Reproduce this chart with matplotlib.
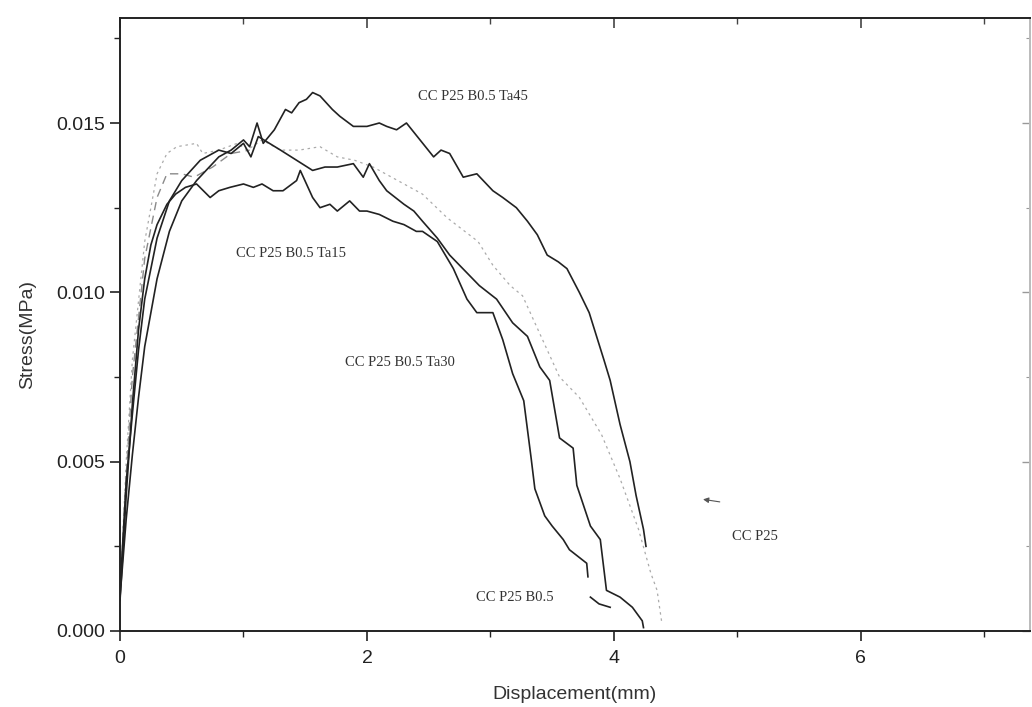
import matplotlib.pyplot as plt
from matplotlib.ticker import MultipleLocator, FormatStrFormatter

ta45_x = [0, 0.05, 0.1, 0.15, 0.2, 0.3, 0.4, 0.5, 0.62, 0.8, 0.9, 1.0, 1.05, 1.11, 1.16,
          1.25, 1.34, 1.39, 1.45, 1.51, 1.56, 1.62, 1.67, 1.72, 1.78, 1.89, 2.0, 2.1,
          2.16, 2.24, 2.32, 2.43, 2.54, 2.6, 2.67, 2.78, 2.89, 3.02, 3.1, 3.21, 3.3,
          3.38, 3.46, 3.55, 3.62, 3.72, 3.8, 3.86, 3.92, 3.97, 4.05, 4.13, 4.18, 4.24, 4.26]
ta45_y = [0.0010, 0.0033, 0.0052, 0.0069, 0.0084, 0.0104, 0.0118, 0.0127, 0.0133, 0.0140,
          0.0142, 0.0145, 0.0143, 0.0150, 0.0144, 0.0148, 0.0154, 0.0153, 0.0156, 0.0157,
          0.0159, 0.0158, 0.0156, 0.0154, 0.0152, 0.0149, 0.0149, 0.0150, 0.0149, 0.0148,
          0.0150, 0.0145, 0.0140, 0.0142, 0.0141, 0.0134, 0.0135, 0.0130, 0.0128, 0.0125,
          0.0121, 0.0117, 0.0111, 0.0109, 0.0107, 0.0100, 0.0094, 0.0087, 0.0080, 0.0074,
          0.0061, 0.0050, 0.0040, 0.0030, 0.0025]

ta30_x = [0, 0.05, 0.1, 0.15, 0.2, 0.3, 0.4, 0.5, 0.65, 0.8, 0.9, 1.0, 1.06, 1.12, 1.21,
          1.3, 1.43, 1.56, 1.66, 1.76, 1.89, 1.97, 2.02, 2.1, 2.16, 2.3, 2.38, 2.45, 2.57,
          2.67, 2.75, 2.83, 2.91, 3.05, 3.18, 3.3, 3.4, 3.48, 3.56, 3.67, 3.7, 3.81, 3.89,
          3.94, 4.05, 4.15, 4.23, 4.24]
ta30_y = [0.0012, 0.0044, 0.0064, 0.0083, 0.0098, 0.0116, 0.0127, 0.0133, 0.0139, 0.0142,
          0.0141, 0.0144, 0.0140, 0.0146, 0.0144, 0.0142, 0.0139, 0.0136, 0.0137, 0.0137,
          0.0138, 0.0134, 0.0138, 0.0133, 0.0130, 0.0126, 0.0124, 0.0121, 0.0116, 0.0111,
          0.0108, 0.0105, 0.0102, 0.0098, 0.0091, 0.0087, 0.0078, 0.0074, 0.0057, 0.0054,
          0.0043, 0.0031, 0.0027, 0.0012, 0.0010, 0.0007, 0.0003, 0.0001]

ta15_x = [0, 0.05, 0.1, 0.15, 0.2, 0.25, 0.3, 0.38, 0.45, 0.53, 0.62, 0.73, 0.8, 0.89,
          1.0, 1.08, 1.15, 1.24, 1.32, 1.43, 1.46, 1.51, 1.56, 1.62, 1.7, 1.76, 1.86,
          1.94, 2.0, 2.1, 2.21, 2.3, 2.4, 2.45, 2.57, 2.7, 2.81, 2.89, 3.02, 3.1, 3.18,
          3.27, 3.33, 3.36, 3.44, 3.5, 3.59, 3.64, 3.78, 3.79]
ta15_y = [0.0009, 0.0040, 0.0067, 0.0089, 0.0104, 0.0114, 0.0120, 0.0126, 0.0129, 0.0131,
          0.0132, 0.0128, 0.0130, 0.0131, 0.0132, 0.0131, 0.0132, 0.0130, 0.0130, 0.0133,
          0.0136, 0.0132, 0.0128, 0.0125, 0.0126, 0.0124, 0.0127, 0.0124, 0.0124, 0.0123,
          0.0121, 0.0120, 0.0118, 0.0118, 0.0115, 0.0107, 0.0098, 0.0094, 0.0094, 0.0086,
          0.0076, 0.0068, 0.0051, 0.0042, 0.0034, 0.0031, 0.0027, 0.0024, 0.0020, 0.0016]

b05_x = [3.81, 3.88, 3.97]
b05_y = [0.0010, 0.0008, 0.0007]

p25_x = [0, 0.05, 0.1, 0.2, 0.3, 0.38, 0.46, 0.62, 0.67, 0.8, 0.95, 1.03, 1.15, 1.3,
         1.45, 1.62, 1.76, 1.9, 2.05, 2.2, 2.35, 2.45, 2.65, 2.9, 3.02, 3.16, 3.26,
         3.56, 3.72, 3.9, 4.05, 4.2, 4.3, 4.35, 4.39]
p25_y = [0.0010, 0.0050, 0.0080, 0.0115, 0.0135, 0.0141, 0.0143, 0.0144, 0.0141, 0.0142,
         0.0144, 0.0142, 0.0145, 0.0142, 0.0142, 0.0143, 0.0140, 0.0139, 0.0137, 0.0134,
         0.0131, 0.0129, 0.0122, 0.0115, 0.0108, 0.0102, 0.0099, 0.0075, 0.0069, 0.0058,
         0.0045, 0.0030, 0.0017, 0.0012, 0.0002]

dash_x = [0, 0.05, 0.1, 0.2, 0.3, 0.38, 0.5, 0.6, 0.75, 0.9, 1.05]
dash_y = [0.0010, 0.0046, 0.0075, 0.0110, 0.0128, 0.0135, 0.0135, 0.0134, 0.0137, 0.0141, 0.0142]

labels = ['CC P25 B0.5 Ta45', 'CC P25 B0.5 Ta15', 'CC P25 B0.5 Ta30', 'CC P25 B0.5', 'CC P25']
label_x = [2.41, 0.94, 1.82, 2.88, 4.96]
label_y = [0.01577, 0.01116, 0.00794, 0.0010, 0.00278]

fig = plt.figure(figsize=(10.32, 7.07), dpi=100)
ax = fig.add_axes([0.1163, 0.1075, 0.8817, 0.867])

ax.plot(p25_x, p25_y, color='#ababab', lw=0.9, ls=(0, (2, 3)))
ax.plot(dash_x, dash_y, color='#8a8a8a', lw=1.0, ls=(0, (6, 4)))
ax.plot(ta15_x, ta15_y, color='#222222', lw=1.2)
ax.plot(b05_x, b05_y, color='#222222', lw=1.2)
ax.plot(ta30_x, ta30_y, color='#222222', lw=1.2)
ax.plot(ta45_x, ta45_y, color='#222222', lw=1.2)

for t, lx, ly in zip(labels, label_x, label_y):
    ax.text(lx, ly, t, family='Liberation Serif', fontsize=10.5, color='#333333',
            va='center', ha='left')

# little arrow next to the CC P25 label
ax.annotate('', xy=(4.70, 0.00390), xytext=(4.88, 0.00380),
            arrowprops=dict(arrowstyle='-|>', color='#555555', lw=0.8, mutation_scale=8))

ax.set_xlim(0, 7.37)
ax.set_ylim(0, 0.0181)
ax.xaxis.set_major_locator(MultipleLocator(2))
ax.xaxis.set_minor_locator(MultipleLocator(1))
ax.yaxis.set_major_locator(MultipleLocator(0.005))
ax.yaxis.set_minor_locator(MultipleLocator(0.0025))
ax.yaxis.set_major_formatter(FormatStrFormatter('%.3f'))

ax.tick_params(which='both', direction='out', labelsize=14, colors='#222222')
ax.tick_params(which='major', length=7, width=1.2, pad=4)
ax.tick_params(axis='x', which='major', pad=7)
ax.tick_params(which='minor', length=4, width=1.0)
for s in ax.spines.values():
    s.set_linewidth(1.4)
    s.set_color('#222222')
ax.spines['right'].set_color('#bbbbbb')

# mirrored ticks on top and right point inwards
top = ax.secondary_xaxis('top')
top.xaxis.set_major_locator(MultipleLocator(2))
top.xaxis.set_minor_locator(MultipleLocator(1))
top.tick_params(which='both', direction='in', labeltop=False, colors='#444444')
top.tick_params(which='major', length=7, width=1.2)
top.tick_params(which='minor', length=4, width=1.0)
top.spines['top'].set_visible(False)
right = ax.secondary_yaxis('right')
right.yaxis.set_major_locator(MultipleLocator(0.005))
right.yaxis.set_minor_locator(MultipleLocator(0.0025))
right.tick_params(which='both', direction='in', labelright=False, colors='#999999')
right.tick_params(which='major', length=6, width=1.0)
right.tick_params(which='minor', length=3, width=0.8)
right.spines['right'].set_visible(False)

for lab in ax.get_xticklabels() + ax.get_yticklabels():
    lab.set_family('Liberation Sans')

ax.set_xlabel('Displacement(mm)', family='Liberation Sans', fontsize=14, color='#333333')
ax.set_ylabel('Stress(MPa)', family='Liberation Sans', fontsize=14, color='#333333')
ax.xaxis.set_label_coords(0.5, -0.09)
ax.yaxis.set_label_coords(-0.092, 0.483)

fig.savefig('out.png', dpi=100)
